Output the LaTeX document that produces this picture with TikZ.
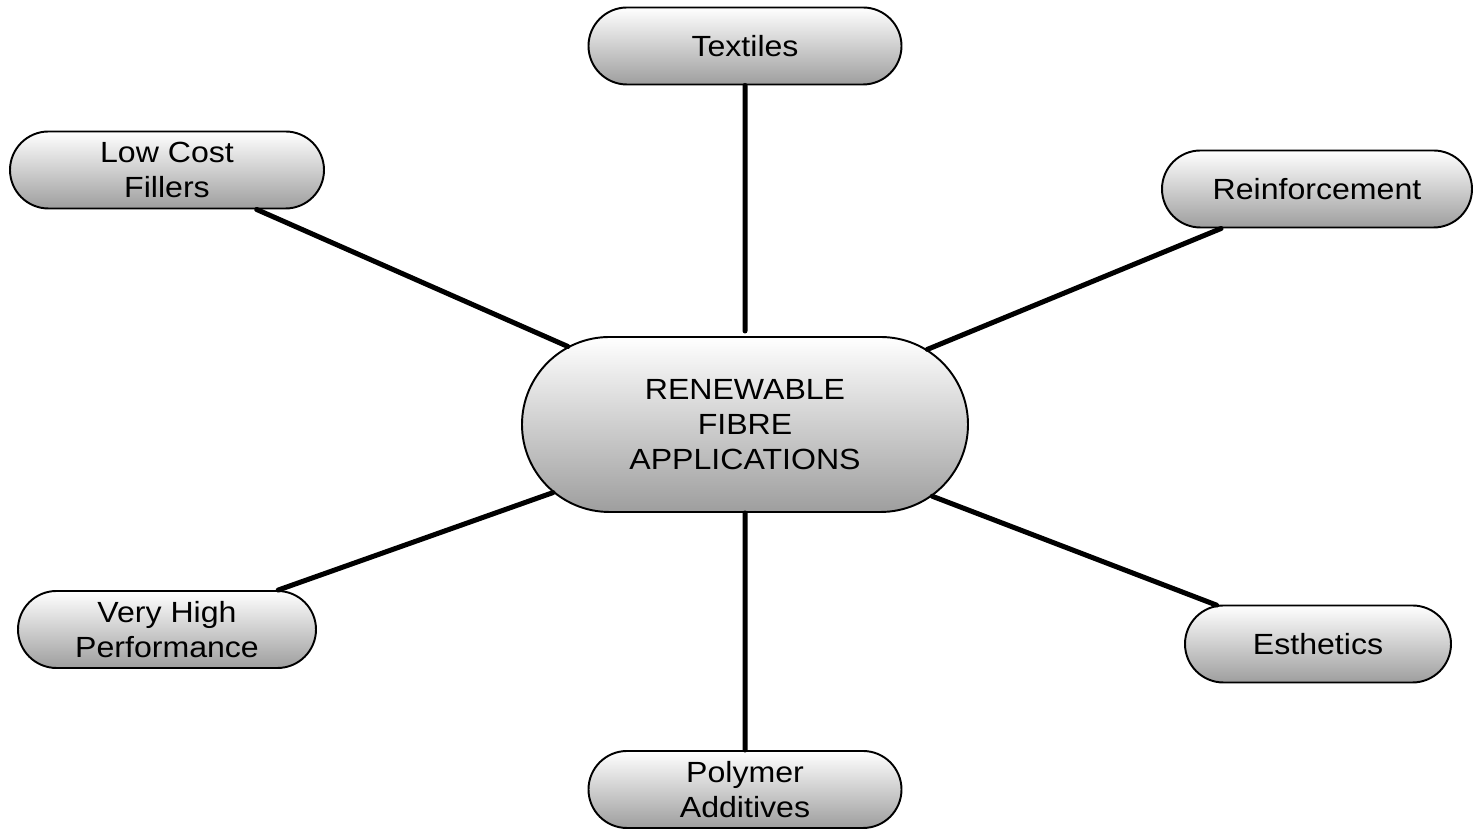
\documentclass[tikz,border=0pt]{standalone}
\usepackage{fontspec}
\setmainfont{Liberation Sans}[FakeStretch=1.1]
\usetikzlibrary{shapes.misc}
\tikzset{
  pill/.style={rounded rectangle, draw=black, line width=1.1pt, top color=white, bottom color=black!38,
    minimum height=1.54cm, align=center, inner sep=0pt, font=\fontsize{16.6pt}{19.9pt}\selectfont},
  link/.style={line width=2.85pt, line cap=round}
}
\begin{document}
\begin{tikzpicture}
\useasboundingbox (0,0) rectangle (29.46,16.58);
% centre of the map
\node[pill, minimum width=8.92cm, minimum height=3.5cm] (core) at (14.90,8.09) {RENEWABLE\\FIBRE\\APPLICATIONS};
% the six uses
\node[pill, minimum width=6.26cm] (textiles) at (14.90,15.66) {Textiles};
\node[pill, minimum width=6.28cm] (fillers) at (3.34,13.18) {Low Cost\\Fillers};
\node[pill, minimum width=6.20cm] (reinf) at (26.34,12.80) {Reinforcement};
\node[pill, minimum width=5.96cm] (perf) at (3.34,3.99) {Very High\\Performance};
\node[pill, minimum width=5.32cm] (esth) at (26.36,3.70) {Esthetics};
\node[pill, minimum width=6.26cm] (additives) at (14.90,0.79) {Polymer\\Additives};

\draw[link, shorten >=0.1cm] (textiles) -- (core);
\draw[link] (fillers) -- (core);
\draw[link] (reinf) -- (core);
\draw[link] (perf) -- (core);
\draw[link] (esth) -- (core);
\draw[link] (additives) -- (core);
\end{tikzpicture}
\end{document}
